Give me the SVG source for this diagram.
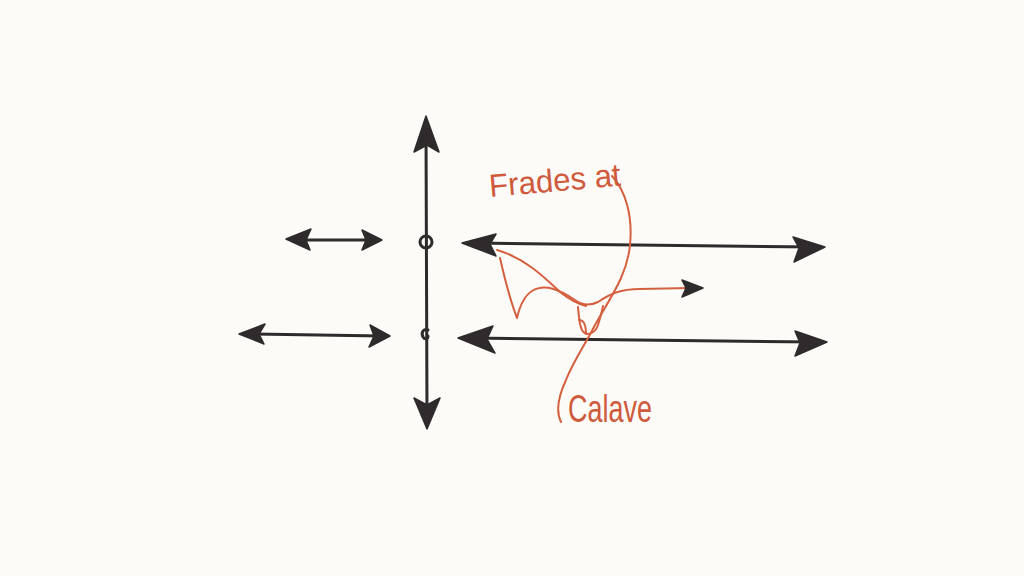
<svg xmlns="http://www.w3.org/2000/svg" width="1024" height="576" viewBox="0 0 1024 576">
<defs>
<style>
.ink{stroke:#2f2a2b;stroke-width:3;fill:none;stroke-linecap:round;stroke-linejoin:round}
.head{fill:#2f2a2b;stroke:#2f2a2b;stroke-width:1.5;stroke-linejoin:round}
.red{stroke:#d4603f;stroke-width:2;fill:none;stroke-linecap:round;stroke-linejoin:round}
.lbl{font-family:"Liberation Sans Narrow","Liberation Sans",sans-serif;fill:#cf5a3c}
</style>
</defs>
<rect width="1024" height="576" fill="#fcfbf8"/>
<g id="connectors">
  <!-- vertical axis -->
  <path class="ink" d="M426 128 L427 418"/>
  <path class="head" d="M426 116 L439 152 L427 145 L414 152 Z"/>
  <path class="head" d="M427 429 L440 398 L427 405 L414 398 Z"/>
  <!-- left top double arrow -->
  <path class="ink" d="M295 240 L374 240"/>
  <path class="head" d="M286 239 L311 229 L306 240 L310 250 Z"/>
  <path class="head" d="M382 240 L362 230 L366 240 L362 250 Z"/>
  <!-- left bottom double arrow -->
  <path class="ink" d="M248 334 L382 336"/>
  <path class="head" d="M239 334 L265 324 L259 334 L264 344 Z"/>
  <path class="head" d="M390 336 L370 325 L374 336 L369 347 Z"/>
  <!-- right top line -->
  <path class="ink" d="M475 243 L815 247"/>
  <path class="head" d="M462 243 L496 234 L490 244 L496 256 Z"/>
  <path class="head" d="M825 247 L793 237 L799 248 L794 262 Z"/>
  <!-- right bottom line -->
  <path class="ink" d="M470 338 L815 342"/>
  <path class="head" d="M458 338 L493 326 L487 339 L495 353 Z"/>
  <path class="head" d="M827 342 L795 331 L800 343 L795 356 Z"/>
  <!-- red curves -->
  <path class="red" d="M497 250 C525 258 545 278 560 292 C570 300 578 304 586 306"/>
  <path class="red" d="M500 258 C505 280 510 300 517 318 C520 305 524 296 532 291 C545 283 560 290 575 300 C582 305 590 306 598 302 C610 294 620 289 640 289 L690 288"/>
  <path class="head" d="M703 288 L682 280 L686 288 L682 297 Z"/>
  <path class="red" d="M578 307 C579 316 579 324 582 330 C586 337 595 334 598 325 C600 318 602 312 603 306"/>
  <path class="red" d="M579 320 C584 320 586 326 586 334"/>
  <path class="red" d="M612 176 C625 190 633 215 630 245 C627 275 612 295 595 325 C585 345 574 360 566 380 C559 395 555 410 561 422"/>
  <!-- circles on axis -->
  <circle class="ink" cx="426" cy="242" r="6" stroke-width="2.5"/>
  <path class="ink" d="M428 330 C423 328 421 333 423 337 C425 340 428 339 428 336" stroke-width="2.5"/>
</g>
<g id="label-frades">
  <text class="lbl" x="490" y="197" font-size="32" textLength="132" lengthAdjust="spacingAndGlyphs" transform="rotate(-5 490 197)">Frades at</text>
</g>
<g id="label-calave">
  <text class="lbl" x="568" y="422" font-size="38" textLength="84" lengthAdjust="spacingAndGlyphs">Calave</text>
</g>
</svg>
